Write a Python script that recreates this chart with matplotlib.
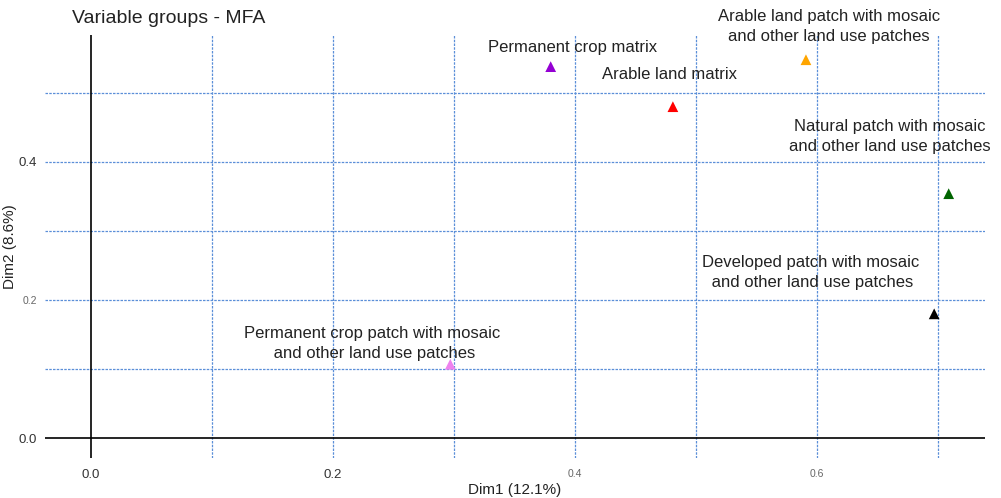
import matplotlib.pyplot as plt

plt.rcParams["font.family"] = ["Liberation Sans", "DejaVu Sans"]

# ── Data ──────────────────────────────────────────────────────────────────────
groups = [
    "Permanent crop matrix",
    "Arable land matrix",
    "Arable land patch with mosaic\nand other land use patches",
    "Natural patch with mosaic\nand other land use patches",
    "Developed patch with mosaic\n and other land use patches",
    "Permanent crop patch with mosaic\n and other land use patches",
]
dim1 = [0.380, 0.481, 0.591, 0.709, 0.697, 0.297]
dim2 = [0.538, 0.480, 0.548, 0.354, 0.180, 0.107]
colors = ["#9400D3", "#FF0000", "#FFA500", "#006400", "#000000", "#EE82EE"]

xticks = [0.0, 0.2, 0.4, 0.6]
yticks = [0.0, 0.2, 0.4]

# label offsets (pixels) from each point, repel-style
offsets = [(22, 19), (-3, 32), (23, 33), (-59, 57), (-124, 41), (-78, 21)]

# ── Plot ──────────────────────────────────────────────────────────────────────
fig = plt.figure(figsize=(10.01, 4.98), dpi=100)
ax = fig.add_axes([0.045, 0.080, 0.939, 0.850])

ax.set_xlim(-0.038, 0.739)
ax.set_ylim(-0.029, 0.584)

grid_kw = dict(color="#5B8FD8", linestyle=(0, (2, 1)), linewidth=0.9, zorder=1)
for gx in [0.1, 0.2, 0.3, 0.4, 0.5, 0.6, 0.7]:
    ax.axvline(gx, **grid_kw)
for gy in [0.1, 0.2, 0.3, 0.4, 0.5]:
    ax.axhline(gy, **grid_kw)

ax.axvline(0, color="black", linewidth=1.2, zorder=2)
ax.axhline(0, color="black", linewidth=1.2, zorder=2)

ax.scatter(dim1, dim2, marker="^", s=60, c=colors, zorder=3, linewidths=0)

for x, y, lab, (dx, dy) in zip(dim1, dim2, groups, offsets):
    ax.annotate(lab, (x, y), xytext=(dx, dy), textcoords="offset pixels",
                ha="center", va="center", multialignment="center",
                fontsize=12, color="#222222", zorder=4, linespacing=1.4)

for s in ax.spines.values():
    s.set_visible(False)

ax.set_xticks(xticks)
ax.set_yticks(yticks)
ax.set_xticklabels([f"{v:.1f}" for v in xticks])
ax.set_yticklabels([f"{v:.1f}" for v in yticks])
ax.tick_params(axis="both", length=0, colors="#333333")
ax.tick_params(axis="x", pad=8)
ax.tick_params(axis="y", pad=6)

# the original mixes two tick label sizes
for lab, big in zip(ax.get_xticklabels(), [True, True, False, False]):
    lab.set_fontsize(9.5 if big else 7.5)
    lab.set_color("#333333" if big else "#666666")
for lab, big in zip(ax.get_yticklabels(), [True, False, True]):
    lab.set_fontsize(9.5 if big else 7.5)
    lab.set_color("#333333" if big else "#666666")

ax.set_xlabel("Dim1 (12.1%)", fontsize=11, labelpad=1, color="#222222")
ax.set_ylabel("Dim2 (8.6%)", fontsize=11, labelpad=1, color="#222222")

fig.text(0.072, 0.962, "Variable groups - MFA", fontsize=14, color="#222222",
         ha="left", va="center")

fig.savefig("out.png", dpi=100)
